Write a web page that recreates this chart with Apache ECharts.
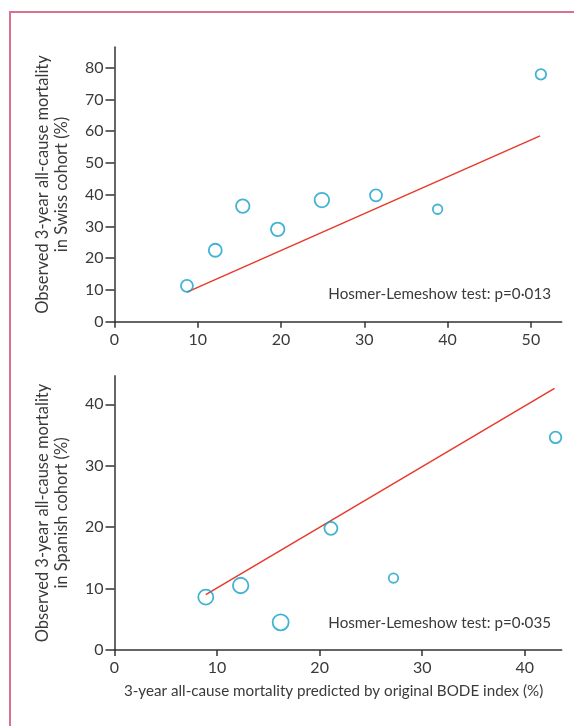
<!DOCTYPE html>
<html>
<head>
<meta charset="utf-8">
<script src="https://cdn.jsdelivr.net/npm/echarts@6/dist/echarts.min.js"></script>
<style>
html,body{margin:0;padding:0;background:#fff;}
#chart{width:574px;height:726px;}
</style>
</head>
<body>
<div id="chart"></div>
<script>
// ---- Data ----
var swissPredicted = [8.7, 12.1, 15.4, 19.6, 24.9, 31.4, 38.8, 51.2];
var swissObserved  = [11.3, 22.5, 36.4, 29.1, 38.3, 39.8, 35.4, 77.9];
var swissFitX = [8.7, 51.1];
var swissFitY = [9.3, 58.5];
var swissXTicks = [0, 10, 20, 30, 40, 50];
var swissYTicks = [0, 10, 20, 30, 40, 50, 60, 70, 80];

var spanishPredicted = [8.9, 12.3, 16.2, 21.1, 27.2, 43.0];
var spanishObserved  = [8.6, 10.5, 4.5, 19.8, 11.7, 34.6];
var spanishFitX = [8.9, 42.9];
var spanishFitY = [9.0, 42.6];
var spanishXTicks = [0, 10, 20, 30, 40];
var spanishYTicks = [0, 10, 20, 30, 40];

var swissTest = 'Hosmer-Lemeshow test: p=0·013';
var spanishTest = 'Hosmer-Lemeshow test: p=0·035';
var swissYTitle = 'Observed 3-year all-cause mortality\nin Swiss cohort (%)';
var spanishYTitle = 'Observed 3-year all-cause mortality\nin Spanish cohort (%)';
var xTitle = '3-year all-cause mortality predicted by original BODE index (%)';

// marker diameters (px)
var swissMarker = [12, 13, 13.5, 13.5, 14.5, 12, 9.5, 10.5];
var spanishMarker = [15, 15.5, 16, 13, 9.5, 11.5];

var FONT = 'Lato';
var TXT = '#3a3a3a';
var CYAN = '#14a0c8';
var RED = '#e8392c';

function pts(xs, ys, sizes) {
  return xs.map(function (x, i) {
    var d = {value: [x, ys[i]]};
    if (sizes) d.symbolSize = sizes[i];
    return d;
  });
}

function xAxisCfg(gridIndex, max, ticks, name) {
  return {
    type: 'value', gridIndex: gridIndex, min: 0, max: max,
    splitLine: {show: false},
    axisLine: {show: true, onZero: false, lineStyle: {color: '#333', width: 1.5}},
    axisTick: {show: true, length: 6, inside: false, customValues: ticks, lineStyle: {color: '#333', width: 1.5}},
    axisLabel: {show: true, customValues: ticks, color: TXT, fontSize: 16, fontFamily: FONT, margin: 10},
    name: name || '', nameLocation: 'middle', nameGap: 34,
    nameTextStyle: {color: TXT, fontSize: 15.2, fontFamily: FONT, padding: [0, 9, 0, 0]}
  };
}
function yAxisCfg(gridIndex, max, ticks, name) {
  return {
    type: 'value', gridIndex: gridIndex, min: 0, max: max,
    splitLine: {show: false},
    axisLine: {show: true, onZero: false, lineStyle: {color: '#666', width: 2}},
    axisTick: {show: true, length: 9, inside: false, customValues: ticks, lineStyle: {color: '#333', width: 1.5}},
    axisLabel: {show: true, customValues: ticks, color: TXT, fontSize: 16, fontFamily: FONT, margin: 11},
    name: name, nameLocation: 'middle', nameGap: 43, nameRotate: 90,
    nameTextStyle: {color: TXT, fontSize: 16.5, fontFamily: FONT, lineHeight: 19}
  };
}

var chart = echarts.init(document.getElementById('chart'), null, {renderer: 'canvas'});
chart.setOption({
  backgroundColor: '#fff',
  animation: false,
  grid: [
    {left: 114.5, right: 12.3, top: 47.3, height: 274.4},
    {left: 114.5, right: 12.3, top: 376, height: 274}
  ],
  xAxis: [
    xAxisCfg(0, 53.7, swissXTicks),
    xAxisCfg(1, 43.6, spanishXTicks, xTitle)
  ],
  yAxis: [
    yAxisCfg(0, 86.4, swissYTicks, swissYTitle),
    yAxisCfg(1, 44.6, spanishYTicks, spanishYTitle)
  ],
  graphic: [
    {type: 'rect', shape: {x: 10, y: 12, width: 600, height: 760},
     style: {fill: 'none', stroke: '#d9728f', lineWidth: 2}, silent: true},
    {type: 'text', x: 551, y: 294, style: {text: swissTest, align: 'right', verticalAlign: 'middle',
      fill: TXT, font: '15.2px ' + FONT}},
    {type: 'text', x: 551, y: 623, style: {text: spanishTest, align: 'right', verticalAlign: 'middle',
      fill: TXT, font: '15.2px ' + FONT}}
  ],
  series: [
    {type: 'line', xAxisIndex: 0, yAxisIndex: 0, data: pts(swissFitX, swissFitY),
     symbol: 'none', lineStyle: {color: RED, width: 1.5}, z: 2},
    {type: 'scatter', xAxisIndex: 0, yAxisIndex: 0, data: pts(swissPredicted, swissObserved, swissMarker),
     symbol: 'circle', itemStyle: {color: 'rgba(255,255,255,0)', borderColor: CYAN, borderWidth: 1.8}, z: 3},
    {type: 'line', xAxisIndex: 1, yAxisIndex: 1, data: pts(spanishFitX, spanishFitY),
     symbol: 'none', lineStyle: {color: RED, width: 1.5}, z: 2},
    {type: 'scatter', xAxisIndex: 1, yAxisIndex: 1, data: pts(spanishPredicted, spanishObserved, spanishMarker),
     symbol: 'circle', itemStyle: {color: 'rgba(255,255,255,0)', borderColor: CYAN, borderWidth: 1.8}, z: 3}
  ]
});
</script>
</body>
</html>
